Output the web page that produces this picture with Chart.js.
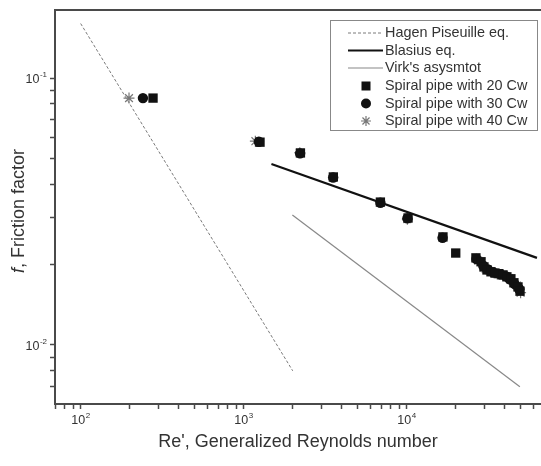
<!DOCTYPE html>
<html>
<head>
<meta charset="utf-8">
<script src="https://cdn.jsdelivr.net/npm/chart.js@4"></script>
<style>
  html, body { margin: 0; padding: 0; background: #fff; }
  #wrap { width: 541px; height: 466px; }
</style>
</head>
<body>
<div id="wrap"><canvas id="chart" width="541" height="466"></canvas></div>
<script>
// reference lines (end points)
const hagenRe = [100, 2000];
const hagenF = [0.16, 0.008];
const blasiusRe = [1480, 63000];
const blasiusF = [0.0476, 0.0212];
const virkRe = [1990, 49500];
const virkF = [0.0307, 0.00697];

// measured points
const cw20Re = [278, 1260, 2230, 3550, 6900, 10200, 16700, 20000, 26600, 28600, 29800, 31100, 32900, 34800, 36800, 39000, 41200, 43600, 45500, 48200, 49600];
const cw20F = [0.0841, 0.0575, 0.0524, 0.0426, 0.0343, 0.0299, 0.0254, 0.0221, 0.0212, 0.0205, 0.0196, 0.0191, 0.0188, 0.0186, 0.0185, 0.0183, 0.018, 0.0177, 0.0171, 0.0165, 0.0159];
const cw30Re = [241, 1240, 2220, 3540, 6900, 10100, 16600, 26800, 29500, 31500, 34000, 37500, 40500, 43000, 46000, 49000];
const cw30F = [0.0841, 0.0577, 0.0522, 0.0424, 0.0341, 0.0298, 0.0252, 0.021, 0.0198, 0.0192, 0.0187, 0.0184, 0.0181, 0.0176, 0.0169, 0.0162];
const cw40Re = [198, 1180, 2210, 10100, 27500, 30500, 36000, 42500, 47500, 50000];
const cw40F = [0.0841, 0.058, 0.0525, 0.0296, 0.0207, 0.0193, 0.0184, 0.0178, 0.0167, 0.0157];

// axis ticks
const xMin = 69.6, xMax = 66700;
const yMin = 0.00601, yMax = 0.1798;
const xLabelValues = [100, 1000, 10000];
const xLabelExps = ['2', '3', '4'];
const yLabelValues = [0.1, 0.01];
const yLabelExps = ['-1', '-2'];

const pts = (xs, ys) => xs.map((v, i) => ({ x: v, y: ys[i] }));

function logTicks(min, max) {
  const out = [];
  for (let e = Math.floor(Math.log10(min)); e <= Math.ceil(Math.log10(max)); e++) {
    for (let k = 1; k <= 9; k++) {
      const v = k * Math.pow(10, e);
      if (v > min * 1.0001 && v < max * 0.9999) out.push({ value: v });
    }
  }
  return out;
}

const FONT = '"Liberation Sans", Arial, sans-serif';
const AXIS = '#4a4a4a';
const TEXT = '#333';

function drawPow(ctx, exp, x, y, align) {
  ctx.font = '12.5px ' + FONT;
  const wb = ctx.measureText('10').width;
  ctx.font = '8px ' + FONT;
  const we = ctx.measureText(exp).width;
  const total = wb + we + 0.5;
  let x0 = align === 'right' ? x - total : x - total / 2;
  ctx.textAlign = 'left';
  ctx.textBaseline = 'alphabetic';
  ctx.font = '12.5px ' + FONT;
  ctx.fillText('10', x0, y);
  ctx.font = '8px ' + FONT;
  ctx.fillText(exp, x0 + wb + 0.5, y - 6);
}

function legendMarker(ctx, ds, x, y) {
  ctx.save();
  if (ds.showLine) {
    ctx.strokeStyle = ds.borderColor;
    ctx.lineWidth = ds.borderWidth;
    ctx.setLineDash(ds.borderDash || []);
    ctx.beginPath();
    ctx.moveTo(x - 18, y);
    ctx.lineTo(x + 17, y);
    ctx.stroke();
  } else if (ds.pointStyle === 'rect') {
    ctx.fillStyle = ds.backgroundColor;
    ctx.fillRect(x - 4.5, y - 4.5, 9, 9);
  } else if (ds.pointStyle === 'circle') {
    ctx.fillStyle = ds.backgroundColor;
    ctx.beginPath();
    ctx.arc(x, y, 5, 0, Math.PI * 2);
    ctx.fill();
  } else {
    ctx.strokeStyle = ds.borderColor;
    ctx.lineWidth = 1.2;
    ctx.beginPath();
    for (let a = 0; a < 4; a++) {
      const t = a * Math.PI / 4;
      ctx.moveTo(x - 5 * Math.cos(t), y - 5 * Math.sin(t));
      ctx.lineTo(x + 5 * Math.cos(t), y + 5 * Math.sin(t));
    }
    ctx.stroke();
  }
  ctx.restore();
}

const decor = {
  id: 'decor',
  afterDraw(chart) {
    const { ctx, chartArea: a, scales: { x, y } } = chart;
    ctx.save();
    // top frame line
    ctx.strokeStyle = AXIS;
    ctx.lineWidth = 2;
    ctx.beginPath();
    ctx.moveTo(a.left - 1, a.top);
    ctx.lineTo(chart.width, a.top);
    ctx.stroke();

    // tick labels
    ctx.fillStyle = TEXT;
    xLabelValues.forEach((v, i) => drawPow(ctx, xLabelExps[i], x.getPixelForValue(v), a.bottom + 20, 'center'));
    yLabelValues.forEach((v, i) => drawPow(ctx, yLabelExps[i], a.left - 8, y.getPixelForValue(v) + 5, 'right'));

    // axis titles
    ctx.font = '18px ' + FONT;
    ctx.textAlign = 'center';
    ctx.textBaseline = 'alphabetic';
    ctx.fillText("Re', Generalized Reynolds number", 298, 447);

    ctx.save();
    ctx.translate(24, 211);
    ctx.rotate(-Math.PI / 2);
    ctx.font = 'italic 18px ' + FONT;
    const wf = ctx.measureText('f').width;
    ctx.font = '18px ' + FONT;
    const wr = ctx.measureText(', Friction factor').width;
    const x0 = -(wf + wr) / 2;
    ctx.textAlign = 'left';
    ctx.font = 'italic 18px ' + FONT;
    ctx.fillText('f', x0, 0);
    ctx.font = '18px ' + FONT;
    ctx.fillText(', Friction factor', x0 + wf, 0);
    ctx.restore();

    // legend box
    const bx = 330, by = 20, bw = 207, bh = 110;
    ctx.fillStyle = '#fff';
    ctx.fillRect(bx, by, bw, bh);
    ctx.strokeStyle = '#888';
    ctx.lineWidth = 1;
    ctx.strokeRect(bx + 0.5, by + 0.5, bw, bh);
    const rows = [33, 50.5, 68, 86, 103.5, 121];
    chart.data.datasets.forEach((ds, i) => {
      legendMarker(ctx, ds, 366, rows[i]);
      ctx.fillStyle = TEXT;
      ctx.font = '14.4px ' + FONT;
      ctx.textAlign = 'left';
      ctx.textBaseline = 'middle';
      ctx.fillText(ds.label, 385, rows[i] + 0.5);
    });
    ctx.restore();
  }
};

new Chart(document.getElementById('chart'), {
  type: 'scatter',
  data: {
    datasets: [
      { label: 'Hagen Piseuille eq.', data: pts(hagenRe, hagenF), showLine: true, borderColor: '#7a7a7a', borderWidth: 1, borderDash: [3, 2], pointRadius: 0 },
      { label: 'Blasius eq.', data: pts(blasiusRe, blasiusF), showLine: true, borderColor: '#111', borderWidth: 2.2, pointRadius: 0 },
      { label: "Virk's asysmtot", data: pts(virkRe, virkF), showLine: true, borderColor: '#888', borderWidth: 1.2, pointRadius: 0 },
      { label: 'Spiral pipe with 20 Cw', data: pts(cw20Re, cw20F), pointStyle: 'rect', pointRadius: 6.6, backgroundColor: '#111', borderColor: '#111', borderWidth: 0 },
      { label: 'Spiral pipe with 30 Cw', data: pts(cw30Re, cw30F), pointStyle: 'circle', pointRadius: 5.2, backgroundColor: '#111', borderColor: '#111', borderWidth: 0 },
      { label: 'Spiral pipe with 40 Cw', data: pts(cw40Re, cw40F), pointStyle: 'star', pointRadius: 5.5, backgroundColor: '#777', borderColor: '#777', borderWidth: 1.2 }
    ]
  },
  options: {
    responsive: false,
    animation: false,
    layout: { autoPadding: false, padding: { top: 10, right: 0, bottom: 0, left: 0 } },
    plugins: { legend: { display: false }, tooltip: { enabled: false } },
    scales: {
      x: {
        type: 'logarithmic', min: xMin, max: xMax,
        afterBuildTicks(s) { s.ticks = logTicks(xMin, xMax); },
        afterFit(s) { s.height = 62; s.paddingLeft = 0; s.paddingRight = 0; },
        grid: { drawOnChartArea: false, tickLength: 5, color: AXIS, tickWidth: 1.5 },
        border: { color: AXIS, width: 2 },
        ticks: { display: false, autoSkip: false }
      },
      y: {
        type: 'logarithmic', min: yMin, max: yMax,
        afterBuildTicks(s) { s.ticks = logTicks(yMin, yMax); },
        afterFit(s) { s.width = 55; s.paddingTop = 0; s.paddingBottom = 0; },
        grid: { drawOnChartArea: false, tickLength: 5, color: AXIS, tickWidth: 1.5 },
        border: { color: AXIS, width: 2 },
        ticks: { display: false, autoSkip: false }
      }
    }
  },
  plugins: [decor]
});
</script>
</body>
</html>
